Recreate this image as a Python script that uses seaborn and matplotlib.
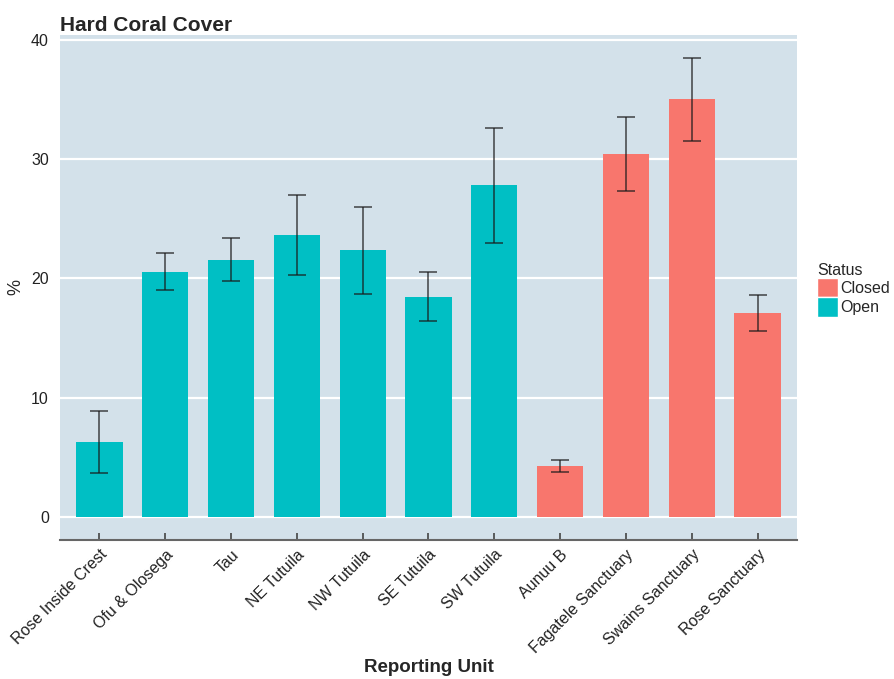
import numpy as np
import pandas as pd
import seaborn as sns
import matplotlib.pyplot as plt
from matplotlib.patches import Patch

units = ["Rose Inside Crest", "Ofu & Olosega", "Tau", "NE Tutuila", "NW Tutuila",
         "SE Tutuila", "SW Tutuila", "Aunuu B", "Fagatele Sanctuary",
         "Swains Sanctuary", "Rose Sanctuary"]
status = ["Open", "Open", "Open", "Open", "Open", "Open", "Open",
          "Closed", "Closed", "Closed", "Closed"]
cover = [6.3, 20.5, 21.5, 23.6, 22.4, 18.4, 27.8, 4.3, 30.4, 35.0, 17.1]
err_hi = [8.9, 22.1, 23.4, 27.0, 26.0, 20.5, 32.6, 4.8, 33.5, 38.5, 18.6]
err_lo = [3.7, 19.0, 19.8, 20.3, 18.7, 16.4, 23.0, 3.8, 27.3, 31.5, 15.6]

colors = {"Closed": "#F8766D", "Open": "#00BFC4"}

sns.set_theme(style="white")
plt.rcParams["font.family"] = ["Liberation Sans", "DejaVu Sans"]

df = pd.DataFrame({"unit": units, "status": status, "cover": cover})

fig = plt.figure(figsize=(8.94, 6.79), dpi=100)
ax = fig.add_axes([0.0671, 0.2047, 0.8244, 0.7438])
ax.set_facecolor("#d3e1ea")

sns.barplot(data=df, x="unit", y="cover", hue="status", palette=colors,
            dodge=False, width=0.7, saturation=1, legend=False, ax=ax,
            zorder=2, linewidth=0, edgecolor="none")

xs = np.arange(len(units))
cover_a = np.array(cover)
yerr = [cover_a - np.array(err_lo), np.array(err_hi) - cover_a]
ax.errorbar(xs, cover_a, yerr=yerr, fmt="none", ecolor="#1a1a1a", alpha=0.8,
            elinewidth=1.1, capsize=6.5, capthick=1.1, zorder=3)

ax.set_xlim(-0.6, 10.6)
ax.set_ylim(-1.93, 40.4)
ax.set_yticks([0, 10, 20, 30, 40])
ax.yaxis.grid(True, color="white", linewidth=1.6, zorder=0)
ax.set_axisbelow(True)
for s in ["top", "right", "left"]:
    ax.spines[s].set_visible(False)
ax.spines["bottom"].set_color("#666666")
ax.spines["bottom"].set_linewidth(1.5)

ax.tick_params(axis="x", bottom=True, direction="in", length=5, color="#444444",
               width=1.2, labelsize=11.5, labelcolor="#222222", pad=5)
ax.tick_params(axis="y", length=0, labelsize=11.5, labelcolor="#222222", pad=8)
plt.setp(ax.get_xticklabels(), rotation=45, ha="right", rotation_mode="anchor")

ax.set_xlabel("Reporting Unit", fontsize=13.5, fontweight="bold", labelpad=2)
ax.set_ylabel("%", fontsize=13, labelpad=5)
ax.set_title("Hard Coral Cover", loc="left", fontsize=15, fontweight="bold", pad=3)

handles = [Patch(facecolor=colors["Closed"], label="Closed"),
           Patch(facecolor=colors["Open"], label="Open")]
leg = fig.legend(handles=handles, title="Status", loc="upper left",
                 bbox_to_anchor=(0.905, 0.625), frameon=False, fontsize=11.5,
                 title_fontsize=11.5, handlelength=1.3, handleheight=1.5,
                 handletextpad=0.15, labelspacing=0.0, borderpad=0)
leg._legend_box.align = "left"

fig.savefig("out.png", dpi=100)
